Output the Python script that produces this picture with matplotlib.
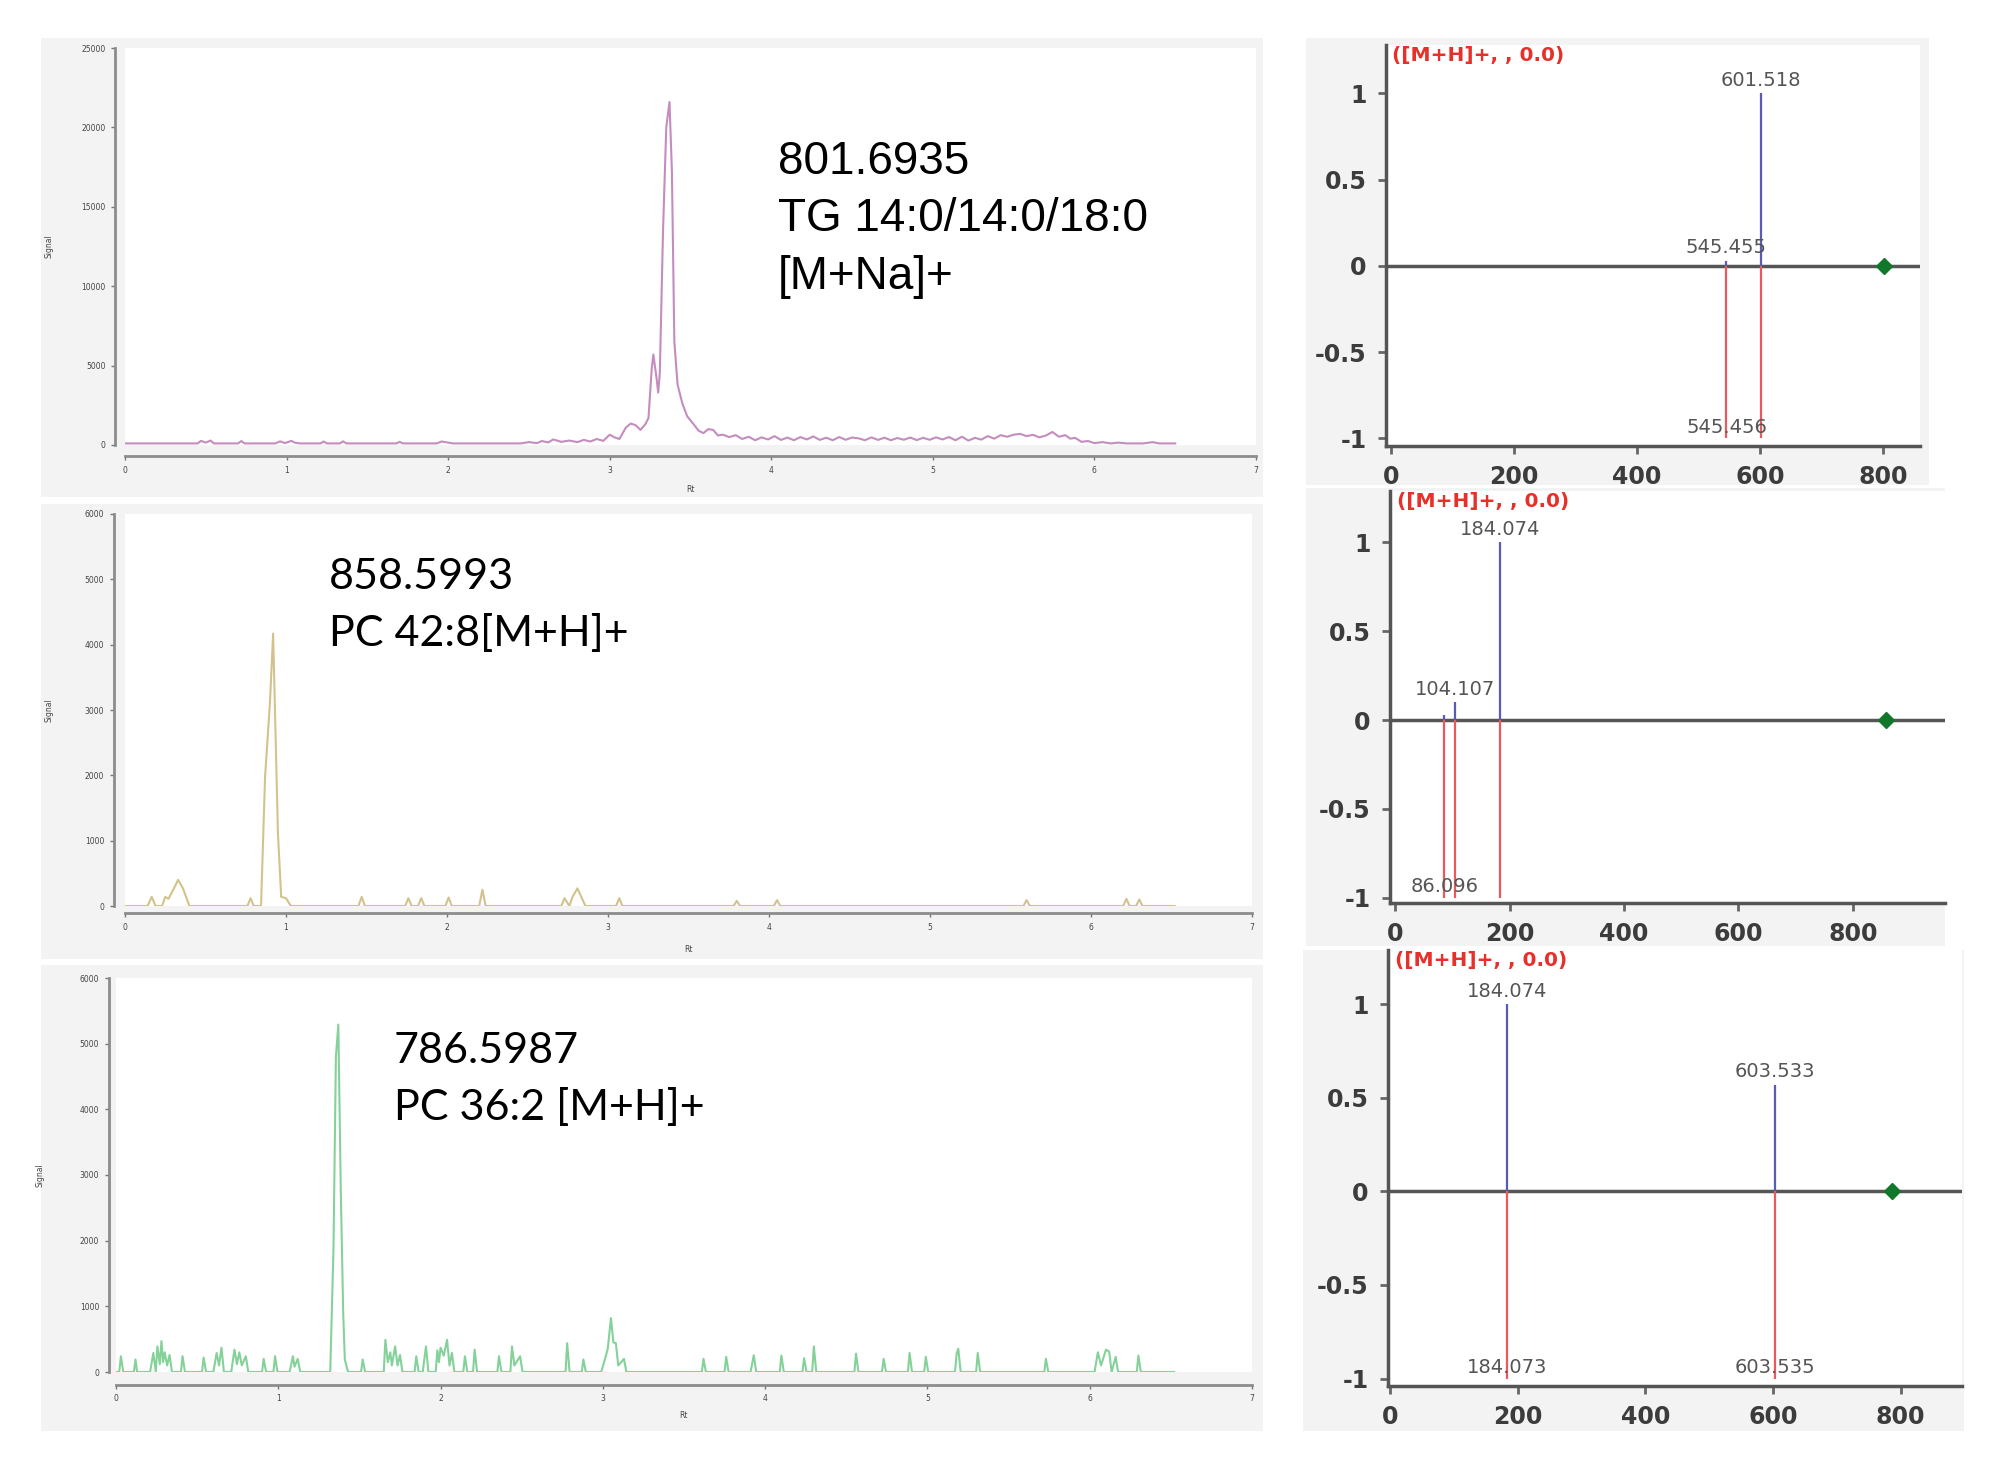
import matplotlib
matplotlib.use("Agg")
import matplotlib.pyplot as plt
from matplotlib.patches import Rectangle

W, H = 2000, 1472

# ---- chromatogram 1: TG 14:0/14:0/18:0 [M+Na]+ ----
tg_rt = [0.0, 0.45, 0.47, 0.50, 0.53, 0.55, 0.70, 0.72, 0.74, 0.93, 0.96, 0.99, 1.03, 1.05, 1.08,
         1.21, 1.23, 1.25, 1.33, 1.35, 1.37, 1.68, 1.70, 1.72, 1.93, 1.96, 2.00, 2.03, 2.45, 2.50,
         2.55, 2.58, 2.62, 2.65, 2.70, 2.75, 2.80, 2.84, 2.88, 2.92, 2.96, 3.00, 3.03, 3.06, 3.10,
         3.13, 3.16, 3.19, 3.22, 3.24, 3.26, 3.27, 3.29, 3.30, 3.31, 3.33, 3.35, 3.37, 3.385, 3.40,
         3.42, 3.45, 3.48, 3.52, 3.55, 3.58, 3.61, 3.64, 3.67, 3.70, 3.74, 3.78, 3.82, 3.86, 3.90,
         3.94, 3.98, 4.02, 4.06, 4.10, 4.14, 4.18, 4.22, 4.26, 4.30, 4.34, 4.38, 4.42, 4.46, 4.50,
         4.54, 4.58, 4.62, 4.66, 4.70, 4.74, 4.78, 4.82, 4.86, 4.90, 4.94, 4.98, 5.02, 5.06, 5.10,
         5.14, 5.18, 5.22, 5.26, 5.30, 5.34, 5.38, 5.42, 5.46, 5.50, 5.54, 5.58, 5.62, 5.66, 5.70,
         5.74, 5.78, 5.82, 5.85, 5.88, 5.92, 5.96, 6.00, 6.05, 6.10, 6.15, 6.20, 6.30, 6.36, 6.40, 6.50]
tg_signal = [100, 100, 260, 150, 280, 100, 100, 250, 100, 100, 230, 120, 260, 150, 100,
             100, 220, 100, 100, 230, 100, 100, 200, 100, 100, 220, 150, 100, 100, 180,
             120, 250, 160, 350, 200, 280, 180, 320, 220, 380, 260, 650, 480, 380, 1100,
             1350, 1250, 950, 1300, 1700, 4800, 5700, 4200, 3300, 4500, 13500, 20000, 21600, 17200, 6500,
             3800, 2600, 1800, 1300, 900, 750, 1000, 950, 600, 650, 500, 620, 380, 520, 300,
             480, 350, 560, 320, 470, 300, 500, 350, 540, 320, 460, 300, 500, 330, 470,
             420, 300, 480, 320, 460, 300, 440, 330, 470, 310, 450, 330, 480, 350, 500,
             300, 520, 280, 450, 340, 560, 400, 620, 520, 650, 700, 560, 640, 480, 600,
             820, 520, 620, 400, 450, 200, 250, 120, 180, 100, 150, 100, 100, 180, 100, 100]

# ---- chromatogram 2: PC 42:8 [M+H]+ ----
pc428_rt = [0.0, 0.14, 0.166, 0.19, 0.23, 0.25, 0.27, 0.30, 0.33, 0.36, 0.40, 0.76, 0.78, 0.80,
            0.845, 0.87, 0.90, 0.92, 0.95, 0.97, 1.00, 1.03, 1.45, 1.47, 1.49, 1.74, 1.76, 1.78,
            1.82, 1.84, 1.86, 1.99, 2.01, 2.03, 2.20, 2.22, 2.24, 2.71, 2.73, 2.76, 2.78, 2.81,
            2.86, 2.90, 3.05, 3.07, 3.09, 3.78, 3.80, 3.82, 4.03, 4.05, 4.07, 5.58, 5.60, 5.62,
            6.20, 6.22, 6.24, 6.28, 6.30, 6.32, 6.52]
pc428_signal = [0, 0, 140, 0, 0, 140, 110, 250, 400, 270, 0, 0, 120, 0,
                0, 1980, 3100, 4170, 1110, 140, 120, 0, 0, 140, 0, 0, 120, 0,
                0, 120, 0, 0, 130, 0, 0, 250, 0, 0, 120, 0, 140, 270,
                0, 0, 0, 120, 0, 0, 80, 0, 0, 90, 0, 0, 90, 0,
                0, 110, 0, 0, 100, 0, 0]

# ---- chromatogram 3: PC 36:2 [M+H]+ ----
pc362_rt = [0.00, 0.02, 0.03, 0.045, 0.11, 0.12, 0.13, 0.21, 0.23, 0.245, 0.255, 0.27, 0.28, 0.29,
            0.30, 0.315, 0.33, 0.345, 0.40, 0.41, 0.425, 0.53, 0.54, 0.555, 0.60, 0.62, 0.635, 0.65,
            0.665, 0.71, 0.73, 0.745, 0.76, 0.775, 0.80, 0.815, 0.90, 0.91, 0.925, 0.97, 0.98, 0.995,
            1.07, 1.09, 1.10, 1.12, 1.135, 1.32, 1.34, 1.355, 1.37, 1.385, 1.40, 1.41, 1.43, 1.51,
            1.52, 1.535, 1.65, 1.66, 1.675, 1.69, 1.70, 1.72, 1.735, 1.75, 1.765, 1.84, 1.85, 1.865,
            1.89, 1.91, 1.925, 1.97, 1.98, 1.99, 2.00, 2.02, 2.04, 2.055, 2.07, 2.085, 2.14, 2.15,
            2.165, 2.20, 2.21, 2.225, 2.35, 2.36, 2.375, 2.43, 2.44, 2.455, 2.49, 2.505, 2.77, 2.78,
            2.795, 2.87, 2.88, 2.895, 2.99, 3.01, 3.03, 3.05, 3.065, 3.08, 3.095, 3.13, 3.145, 3.61,
            3.62, 3.635, 3.75, 3.76, 3.775, 3.91, 3.93, 3.945, 4.09, 4.10, 4.115, 4.23, 4.24, 4.255,
            4.29, 4.30, 4.315, 4.55, 4.56, 4.575, 4.72, 4.73, 4.745, 4.88, 4.89, 4.905, 4.98, 4.99,
            5.005, 5.17, 5.18, 5.19, 5.205, 5.30, 5.31, 5.325, 5.72, 5.73, 5.745, 6.03, 6.05, 6.07,
            6.10, 6.12, 6.135, 6.16, 6.175, 6.29, 6.30, 6.315, 6.52]
pc362_signal = [0, 0, 240, 0, 0, 190, 0, 0, 290, 0, 390, 120, 470, 150,
                300, 100, 260, 0, 0, 240, 0, 0, 220, 0, 0, 290, 100, 370,
                0, 0, 340, 120, 300, 100, 240, 0, 0, 200, 0, 0, 240, 0,
                0, 240, 80, 200, 0, 0, 1860, 4800, 5290, 2780, 900, 190, 0, 0,
                190, 0, 0, 490, 150, 300, 100, 390, 100, 260, 0, 0, 240, 0,
                0, 390, 0, 0, 330, 150, 370, 250, 490, 100, 290, 0, 0, 240,
                0, 0, 340, 0, 0, 240, 0, 0, 390, 100, 240, 0, 0, 440,
                0, 0, 190, 0, 0, 170, 350, 820, 450, 440, 100, 200, 0, 0,
                200, 0, 0, 230, 0, 0, 255, 0, 0, 250, 0, 0, 210, 0,
                0, 390, 0, 0, 280, 0, 0, 200, 0, 0, 290, 0, 0, 230,
                0, 0, 280, 355, 0, 0, 290, 0, 0, 200, 0, 0, 300, 100,
                340, 310, 0, 230, 0, 0, 250, 0, 0]

# ---- mirror spectra (library up, experiment down) ----
ms1_lib_mz = [545.455, 601.518]
ms1_lib_int = [0.03, 1.0]
ms1_exp_mz = [545.456, 601.518]
ms1_exp_int = [1.0, 1.0]
ms1_precursor = 801.6935

ms2_lib_mz = [86.096, 104.107, 184.074]
ms2_lib_int = [0.03, 0.10, 1.0]
ms2_exp_mz = [86.096, 104.107, 184.074]
ms2_exp_int = [1.0, 1.0, 1.0]
ms2_precursor = 858.5993

ms3_lib_mz = [184.074, 603.533]
ms3_lib_int = [1.0, 0.57]
ms3_exp_mz = [184.073, 603.535]
ms3_exp_int = [1.0, 1.0]
ms3_precursor = 786.5987

spec_title = "([M+H]+, , 0.0)"


def px_axes(fig, x0, y0, x1, y1):
    # box given in image pixels (top-left origin)
    return fig.add_axes([x0 / W, 1 - y1 / H, (x1 - x0) / W, (y1 - y0) / H])


def bg_box(fig, x0, y0, x1, y1):
    fig.add_artist(Rectangle((x0 / W, 1 - y1 / H), (x1 - x0) / W, (y1 - y0) / H,
                             transform=fig.transFigure, facecolor="#f3f3f3",
                             edgecolor="none", zorder=-5))


def chromatogram(ax, rt, signal, color, ymax, ystep, left_out, bottom_out):
    ax.plot(rt, signal, color=color, lw=1.5)
    ax.set_xlim(0, 7)
    ax.set_ylim(0, ymax)
    for side in ["top", "right"]:
        ax.spines[side].set_visible(False)
    ax.spines["left"].set_position(("outward", left_out))
    ax.spines["bottom"].set_position(("outward", bottom_out))
    for side in ["left", "bottom"]:
        ax.spines[side].set_color("#8c8c8c")
        ax.spines[side].set_linewidth(2)
    ax.set_xticks(range(0, 8))
    ax.set_yticks(range(0, ymax + 1, ystep))
    ax.tick_params(labelsize=5.5, labelcolor="#444444", length=3, width=1, color="#777777", pad=4)
    ax.set_xlabel("Rt", fontsize=5.5, color="#444444")
    ax.set_ylabel("Signal", fontsize=5.5, color="#444444")
    ax.xaxis.set_label_coords(0.5, -0.1)
    ax.yaxis.set_label_coords(-0.063, 0.5)


def mirror(ax, lib_mz, lib_int, exp_mz, exp_int, precursor, xlim, ylim, top_labels, bottom_labels):
    ax.axhline(0, color="#555555", lw=2.5, zorder=1)
    ax.vlines(lib_mz, 0, lib_int, color="#5b5bb5", lw=1.6, zorder=2)
    ax.vlines(exp_mz, [-v for v in exp_int], 0, color="#ea5a5c", lw=1.6, zorder=2)
    ax.plot([precursor], [0], marker="D", color="#11772a", markersize=8, zorder=3)
    for mz, y, txt in top_labels:
        ax.text(mz, y + 0.02, txt, ha="center", va="bottom", fontsize=14, color="#555555")
    for mz, txt in bottom_labels:
        ax.text(mz, -0.99, txt, ha="center", va="bottom", fontsize=14, color="#555555")
    ax.set_xlim(*xlim)
    ax.set_ylim(*ylim)
    for side in ["top", "right"]:
        ax.spines[side].set_visible(False)
    for side in ["left", "bottom"]:
        ax.spines[side].set_color("#555555")
        ax.spines[side].set_linewidth(2.5)
    ax.set_xticks([0, 200, 400, 600, 800])
    ax.set_yticks([-1, -0.5, 0, 0.5, 1])
    ax.set_yticklabels(["-1", "-0.5", "0", "0.5", "1"])
    ax.tick_params(labelsize=17, labelcolor="#3c3c3c", length=6, width=2, color="#666666", pad=8)
    for lab in ax.get_xticklabels() + ax.get_yticklabels():
        lab.set_fontweight("bold")
    ax.text(0.012, 0.997, spec_title, transform=ax.transAxes, ha="left", va="top",
            fontsize=14.5, fontweight="bold", color="#e8302a")


fig = plt.figure(figsize=(W / 100, H / 100), dpi=100, facecolor="white")

# grey panel backgrounds
bg_box(fig, 41, 38, 1263, 497)
bg_box(fig, 41, 504, 1263, 959)
bg_box(fig, 41, 965, 1263, 1431)
bg_box(fig, 1306, 38, 1929, 485)
bg_box(fig, 1306, 488, 1945, 946)
bg_box(fig, 1303, 950, 1964, 1431)

# left: chromatograms
ax1 = px_axes(fig, 125, 48, 1256, 445)
chromatogram(ax1, tg_rt, tg_signal, "#c48cbf", 25000, 5000, 7, 8)
ax2 = px_axes(fig, 125, 514, 1252, 906)
chromatogram(ax2, pc428_rt, pc428_signal, "#d2c38c", 6000, 1000, 8, 5)
ax3 = px_axes(fig, 116, 978, 1252, 1372)
chromatogram(ax3, pc362_rt, pc362_signal, "#84d29a", 6000, 1000, 5, 9)

fig.text(778 / W, 1 - 162 / H, "801.6935", fontsize=33, family="Liberation Sans", va="center")
fig.text(778 / W, 1 - 219 / H, "TG 14:0/14:0/18:0", fontsize=33, family="Liberation Sans", va="center")
fig.text(778 / W, 1 - 277 / H, "[M+Na]+", fontsize=33, family="Liberation Sans", va="center")
fig.text(329 / W, 1 - 577 / H, "858.5993", fontsize=31, family="Lato", va="center")
fig.text(329 / W, 1 - 634 / H, "PC 42:8[M+H]+", fontsize=31, family="Lato", va="center")
fig.text(394 / W, 1 - 1051 / H, "786.5987", fontsize=31, family="Lato", va="center")
fig.text(394 / W, 1 - 1108 / H, "PC 36:2 [M+H]+", fontsize=31, family="Lato", va="center")

# right: mirror spectra
r1 = px_axes(fig, 1386, 45, 1920, 446)
mirror(r1, ms1_lib_mz, ms1_lib_int, ms1_exp_mz, ms1_exp_int, ms1_precursor,
       (-8, 860), (-1.044, 1.28),
       [(601.518, 1.0, "601.518"), (545.455, 0.03, "545.455")],
       [(545.456, "545.456")])
r2 = px_axes(fig, 1390, 491, 1945, 903)
mirror(r2, ms2_lib_mz, ms2_lib_int, ms2_exp_mz, ms2_exp_int, ms2_precursor,
       (-9, 961), (-1.03, 1.29),
       [(184.074, 1.0, "184.074"), (104.107, 0.10, "104.107")],
       [(86.096, "86.096")])
r3 = px_axes(fig, 1388, 950, 1962, 1386)
mirror(r3, ms3_lib_mz, ms3_lib_int, ms3_exp_mz, ms3_exp_int, ms3_precursor,
       (-3, 896), (-1.04, 1.29),
       [(184.074, 1.0, "184.074"), (603.533, 0.57, "603.533")],
       [(184.073, "184.073"), (603.535, "603.535")])

fig.savefig("out.png", dpi=100)
plt.close(fig)
